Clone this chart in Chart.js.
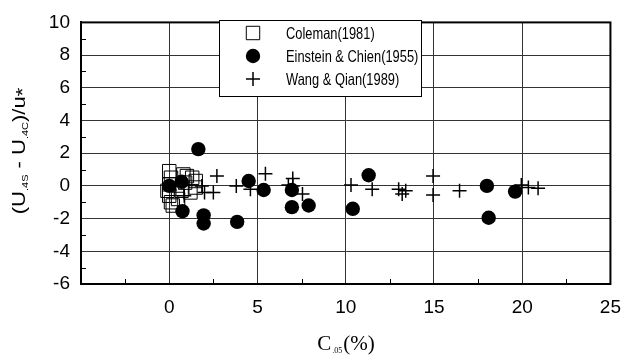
<!DOCTYPE html>
<html>
<head>
<meta charset="utf-8">
<script src="https://cdn.jsdelivr.net/npm/chart.js@4.4.1/dist/chart.umd.min.js"></script>
<style>
  html, body { margin: 0; padding: 0; background: #fff; }
</style>
</head>
<body>
<canvas id="chart" width="633" height="362"></canvas>
<script>
// Values
const colemanX = [0.0, 0.1, 0.0, -0.1, 0.0, 0.1, 0.2, 0.5, 0.8, 0.7, 1.0, 1.3, 1.5, 1.5, 1.2, 0.9];
const colemanY = [0.9, 0.5, 0.1, -0.3, -0.6, -1.0, -1.2, -0.8, 0.7, -0.3, 0.6, 0.5, 0.3, -0.1, -0.4, 0.2];

const einsteinX = [0.0, 0.7, 1.65, 0.75, 1.95, 1.95, 3.85, 4.5, 5.35, 6.95, 6.95, 7.9, 10.4, 11.3, 18.0, 18.1, 19.6];
const einsteinY = [0.0, 0.25, 2.25, -1.55, -1.8, -2.3, -2.2, 0.3, -0.25, -0.25, -1.3, -1.2, -1.4, 0.65, 0.0, -1.95, -0.35];

const wangX = [0.85, 1.85, 2.0, 2.5, 2.7, 3.8, 4.6, 5.45, 6.75, 7.0, 7.0, 7.55, 10.3, 11.5, 13.0, 13.2, 13.4, 14.95, 14.95, 16.45, 19.95, 20.35, 20.9];
const wangY = [-0.6, 0.0, -0.4, -0.4, 0.6, 0.0, -0.2, 0.75, 0.05, 0.45, 0.0, -0.5, 0.05, -0.2, -0.2, -0.5, -0.3, 0.6, -0.55, -0.3, 0.05, -0.1, -0.15];

const seriesNames = ["Coleman(1981)", "Einstein & Chien(1955)", "Wang & Qian(1989)"];

const xMin = -5, xMax = 25, xStep = 2.5, xLabelEvery = 5;
const yMin = -6, yMax = 10, yStep = 1, yLabelEvery = 2;

const SANS = "'Liberation Sans', Arial, Helvetica, sans-serif";
const SERIF = "'Liberation Serif', 'Times New Roman', serif";

function toPoints(xs, ys) {
    return xs.map((x, i) => ({ x: x, y: ys[i] }));
}

const styles = [
    { pointStyle: "rect", pointRadius: 9.5, backgroundColor: "rgba(0,0,0,0)", borderColor: "#000", borderWidth: 1 },
    { pointStyle: "circle", pointRadius: 7.2, backgroundColor: "#000", borderColor: "#000", borderWidth: 0 },
    { pointStyle: "cross", pointRadius: 7, backgroundColor: "#000", borderColor: "#000", borderWidth: 1.5 }
];

// draw a run of text pieces (for subscripts), centred on cx,cy
// squeeze < 1 narrows the glyphs across the reading direction
function drawRich(ctx, parts, cx, cy, angle, squeezeX, squeezeY) {
    ctx.save();
    ctx.translate(cx, cy);
    ctx.rotate(angle);
    ctx.scale(squeezeX || 1, squeezeY || 1);
    let total = 0;
    parts.forEach(p => {
        ctx.font = p.size + "px " + p.family;
        p.w = ctx.measureText(p.text).width;
        total += p.w + (p.gap || 0);
    });
    let x = -total / 2;
    ctx.fillStyle = "#000";
    ctx.textBaseline = "alphabetic";
    ctx.textAlign = "left";
    parts.forEach(p => {
        ctx.font = p.size + "px " + p.family;
        ctx.fillText(p.text, x, p.dy || 0);
        x += p.w + (p.gap || 0);
    });
    ctx.restore();
}

const decorPlugin = {
    id: "decor",
    afterDraw(chart) {
        const { ctx, chartArea: a, scales } = chart;
        const xs = scales.x, ys = scales.y;
        ctx.save();

        // minor ticks pointing into the plot
        ctx.strokeStyle = "#000";
        ctx.lineWidth = 1;
        ctx.beginPath();
        xs.ticks.forEach(t => {
            if (Math.abs(t.value % xLabelEvery) > 1e-6) {
                const px = Math.round(xs.getPixelForValue(t.value)) + 0.5;
                ctx.moveTo(px, a.bottom);
                ctx.lineTo(px, a.bottom - 5);
            }
        });
        ys.ticks.forEach(t => {
            if (Math.abs(t.value % yLabelEvery) > 1e-6) {
                const py = Math.round(ys.getPixelForValue(t.value)) + 0.5;
                ctx.moveTo(a.left, py);
                ctx.lineTo(a.left + 5, py);
            }
        });
        ctx.stroke();

        // frame
        ctx.lineWidth = 2;
        ctx.strokeRect(a.left, a.top, a.right - a.left, a.bottom - a.top);

        // legend box
        const box = { left: 219, top: 20, right: 421, bottom: 96 };
        ctx.fillStyle = "#fff";
        ctx.fillRect(box.left, box.top, box.right - box.left, box.bottom - box.top);
        ctx.lineWidth = 1;
        ctx.strokeStyle = "#000";
        ctx.strokeRect(box.left + 0.5, box.top + 0.5, box.right - box.left, box.bottom - box.top);
        const rowY = [33, 56, 79];
        seriesNames.forEach((name, i) => {
            const st = styles[i];
            ctx.fillStyle = st.backgroundColor;
            ctx.strokeStyle = st.borderColor;
            ctx.lineWidth = st.borderWidth;
            Chart.helpers.drawPoint(ctx, {
                pointStyle: st.pointStyle,
                radius: st.pointRadius,
                rotation: 0,
                borderWidth: st.borderWidth
            }, 253, rowY[i]);
            ctx.save();
            ctx.translate(286, rowY[i] + 1);
            ctx.scale(0.78, 1);
            ctx.fillStyle = "#000";
            ctx.font = "16.5px " + SANS;
            ctx.textBaseline = "middle";
            ctx.textAlign = "left";
            ctx.fillText(name, 0, 0);
            ctx.restore();
        });

        // y axis title
        drawRich(ctx, [
            { text: "(U", size: 22, family: SANS },
            { text: ".4S", size: 11, family: SANS, dy: 4 },
            { text: " - U", size: 22, family: SANS },
            { text: ".4C", size: 11, family: SANS, dy: 4 },
            { text: ")/u", size: 22, family: SANS },
            { text: "*", size: 22, family: SANS, dy: 5 }
        ], 25, 151, -Math.PI / 2, 1, 0.8);

        // x axis title
        drawRich(ctx, [
            { text: "C", size: 21, family: SERIF, gap: 1 },
            { text: ".05", size: 8, family: SERIF, dy: 3, gap: 1 },
            { text: "(%)", size: 21, family: SERIF }
        ], 346, 350, 0);

        ctx.restore();
    }
};

const datasets = [
    { label: seriesNames[0], data: toPoints(colemanX, colemanY), order: 3 },
    { label: seriesNames[1], data: toPoints(einsteinX, einsteinY), order: 2 },
    { label: seriesNames[2], data: toPoints(wangX, wangY), order: 1 }
].map((d, i) => Object.assign(d, styles[i], { pointHoverRadius: styles[i].pointRadius }));

new Chart(document.getElementById("chart").getContext("2d"), {
    type: "scatter",
    data: { datasets: datasets },
    options: {
        responsive: false,
        animation: false,
        events: [],
        layout: { padding: { left: 0, right: 13, top: 15, bottom: 0 } },
        plugins: {
            legend: { display: false },
            tooltip: { enabled: false }
        },
        scales: {
            x: {
                type: "linear",
                min: xMin,
                max: xMax,
                afterFit: (scale) => { scale.height = 78; },
                border: { display: true, color: "#000", width: 2 },
                grid: {
                    drawTicks: false,
                    lineWidth: 1,
                    color: (c) => (Math.abs(c.tick.value % xLabelEvery) < 1e-6 ? "#333" : "rgba(0,0,0,0)")
                },
                ticks: {
                    stepSize: xStep,
                    autoSkip: false,
                    maxRotation: 0,
                    padding: 12,
                    color: "#000",
                    font: { family: SANS, size: 19 },
                    callback: (v) => (Math.abs(v % xLabelEvery) < 1e-6 && v >= 0 ? String(v) : "")
                }
            },
            y: {
                type: "linear",
                min: yMin,
                max: yMax,
                afterFit: (scale) => { scale.width = 81; },
                border: { display: true, color: "#000", width: 2 },
                grid: {
                    drawTicks: false,
                    lineWidth: 1,
                    color: (c) => (Math.abs(c.tick.value % yLabelEvery) < 1e-6 ? "#333" : "rgba(0,0,0,0)")
                },
                ticks: {
                    stepSize: yStep,
                    autoSkip: false,
                    padding: 11,
                    color: "#000",
                    font: { family: SANS, size: 19 },
                    callback: (v) => (Math.abs(v % yLabelEvery) < 1e-6 ? String(v) : "")
                }
            }
        }
    },
    plugins: [decorPlugin]
});
</script>
</body>
</html>
